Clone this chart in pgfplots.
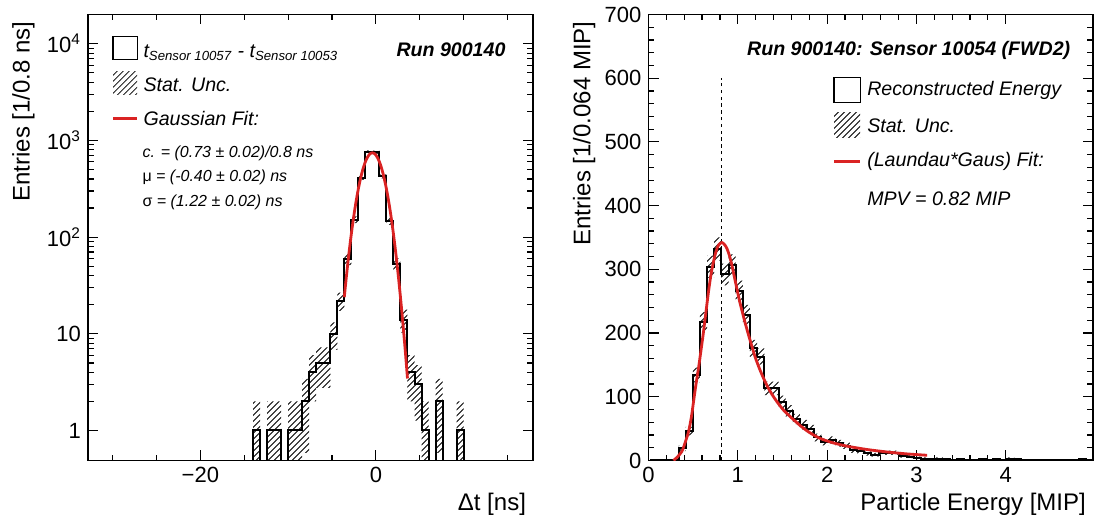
\documentclass[border=0pt]{standalone}
\usepackage{fontspec}
\setmainfont{Liberation Sans}
\usepackage{pgfplots}
\usepackage{pgfplotstable}
\pgfplotsset{compat=1.18}
\usepgfplotslibrary{fillbetween}
\usetikzlibrary{patterns}
\definecolor{fitred}{RGB}{218,35,35}

% left histogram: bin low edge, content, content-sqrt, content+sqrt (0.1 = empty on log axis)
\pgfplotstableread{
x y lo hi
-14.8 0.1 0.1 0.1
-14.0 1 0.1 2
-13.2 0.1 0.1 0.1
-12.4 1 0.1 2
-11.6 1 0.1 2
-10.8 0.1 0.1 0.1
-10.0 1 0.1 2
-9.2 1 0.1 2
-8.4 2 0.586 3.414
-7.6 4 2 6
-6.8 5 2.764 7.236
-6.0 5 2.764 7.236
-5.2 10 6.838 13.162
-4.4 22 17.31 26.69
-3.6 59 51.32 66.68
-2.8 152 139.67 164.33
-2.0 410 389.75 430.25
-1.2 762 734.4 789.6
-0.4 755 727.5 782.5
0.4 426 405.4 446.6
1.2 146 133.9 158.1
2.0 53 45.72 60.28
2.8 14 10.26 17.74
3.6 4 2 6
4.4 3 1.268 4.732
5.2 1 0.1 2
6.0 0.1 0.1 0.1
6.8 2 0.586 3.414
7.6 0.1 0.1 0.1
8.4 0.1 0.1 0.1
9.2 1 0.1 2
10.0 0.1 0.1 0.1
10.8 0.1 0.1 0.1
}\lefthist

% right histogram
\pgfplotstableread{
x y lo hi
0.016 0 0 0
0.336 19 14.64 23.36
0.416 46 39.22 52.78
0.496 134 122.42 145.58
0.576 218 203.24 232.76
0.656 304 286.56 321.44
0.736 332 313.78 350.22
0.816 292 274.91 309.09
0.896 306 288.51 323.49
0.976 266 249.69 282.31
1.056 229 213.87 244.13
1.136 176 162.73 189.27
1.216 163 150.23 175.77
1.296 113 102.37 123.63
1.376 113 102.37 123.63
1.456 92 82.41 101.59
1.536 78 69.17 86.83
1.616 65 56.94 73.06
1.696 56 48.52 63.48
1.776 49 42 56
1.856 36 30 42
1.936 29 23.61 34.39
2.016 32 26.34 37.66
2.096 27 21.8 32.2
2.176 23 18.2 27.8
2.256 16 12 20
2.336 15 11.13 18.87
2.416 11 7.68 14.32
2.496 9 6 12
2.576 12 8.54 15.46
2.656 12 8.54 15.46
2.736 12 8.54 15.46
2.816 7 4.35 9.65
2.896 6 3.55 8.45
2.976 4 2 6
3.056 3 1.27 4.73
3.136 2 0.59 3.41
3.216 3 1.27 4.73
3.296 2 0.59 3.41
3.376 1 0 2
3.456 2 0.59 3.41
3.536 1 0 2
3.616 1 0 2
3.696 2 0.59 3.41
3.776 1 0 2
3.856 2 0.59 3.41
3.936 1 0 2
4.016 3 1.27 4.73
4.096 2 0.59 3.41
4.176 0 0 0
4.256 1 0 2
4.336 1 0 2
4.416 0 0 0
4.496 1 0 2
4.576 1 0 2
4.656 0 0 0
4.736 1 0 2
4.816 2 0.59 3.41
4.896 1 0 2
4.976 1 0 2
}\righthist

\pgfplotsset{
  rootstyle/.style={
    scale only axis,
    anchor=south west,
    axis line style={line width=0.8pt},
    every tick/.style={black, line width=0.6pt},
    major tick length=5pt,
    minor tick length=2.8pt,
    tick label style={font=\fontsize{11}{13}\selectfont},
    label style={font=\fontsize{12}{14}\selectfont},
    xlabel style={at={(axis description cs:1,-0.098)}, anchor=east},
    ylabel style={at={(axis description cs:-0.145,1)}, anchor=east},
    clip=true,
  },
}
\tikzset{
  legtext/.style={font=\fontsize{9.8}{11}\selectfont\itshape, anchor=west, inner sep=0pt},
}

\begin{document}
\begin{tikzpicture}
\path (0,0) rectangle (547pt,260pt);

% ---------------- left panel ----------------
\begin{axis}[rootstyle,
  at={(44pt,32pt)}, width=222.5pt, height=223pt,
  ymode=log, xmin=-32.8, xmax=17.9, ymin=0.49, ymax=2.01e4,
  xtick={-20,0}, xticklabels={−20,0},
  minor xtick={-30,-25,-15,-10,-5,5,10,15},
  ytick={1,10,100,1000,10000},
  yticklabels={1,10,10\textsuperscript{2},10\textsuperscript{3},10\textsuperscript{4}},
  xlabel={Δt [ns]}, ylabel={Entries [1/0.8 ns]},
]
\addplot[draw=none, name path=lu, const plot, forget plot] table[x=x, y=hi] {\lefthist};
\addplot[draw=none, name path=ll, const plot, forget plot] table[x=x, y=lo] {\lefthist};
\addplot[pattern=north east lines, draw=none] fill between[of=lu and ll];
\addplot[black, line width=1pt, const plot] table[x=x, y=y] {\lefthist};
\addplot[fitred, line width=1.4pt, smooth] coordinates {
(-3.6,23.9) (-3.4,36.2) (-3.2,53.5) (-3.0,76.9) (-2.8,107.6) (-2.6,146.5)
(-2.4,194.3) (-2.2,250.8) (-2.0,315.3) (-1.8,385.7) (-1.6,459.3) (-1.4,532.4)
(-1.2,600.8) (-1.0,660.1) (-0.8,706.0) (-0.6,735.1) (-0.4,745) (-0.2,735.1)
(0.0,706.0) (0.2,660.1) (0.4,600.8) (0.6,532.4) (0.8,459.3) (1.0,385.7)
(1.2,315.3) (1.4,250.8) (1.6,194.3) (1.8,146.5) (2.0,107.6) (2.2,76.9)
(2.4,53.5) (2.6,36.2) (2.8,23.9) (3.0,15.3) (3.2,9.58) (3.4,5.83) (3.6,3.45)};
% legend
\draw[black, line width=0.6pt] (axis description cs:0.0563,0.8984) rectangle (axis description cs:0.1104,0.9507);
\fill[pattern=north east lines] (axis description cs:0.0563,0.8206) rectangle (axis description cs:0.1104,0.8722);
\draw[fitred, line width=1.4pt] (axis description cs:0.0563,0.7668) -- (axis description cs:0.1104,0.7668);
\node[legtext, anchor=base west] at (axis description cs:0.1239,0.9036)
  {\textit{t}\textsubscript{\fontsize{6.6}{8}\selectfont\itshape Sensor 10057} - \textit{t}\textsubscript{\fontsize{6.6}{8}\selectfont\itshape Sensor 10053}};
\node[legtext] at (axis description cs:0.1239,0.843) {Stat. Unc.};
\node[legtext] at (axis description cs:0.1239,0.7668) {Gaussian Fit:};
\node[legtext, font=\fontsize{8}{9}\selectfont\itshape] at (axis description cs:0.1216,0.6883) {c. = (0.73 ± 0.02)/0.8 ns};
\node[legtext, font=\fontsize{8}{9}\selectfont\itshape] at (axis description cs:0.1216,0.6345) {\textup{μ} = (-0.40 ± 0.02) ns};
\node[legtext, font=\fontsize{8}{9}\selectfont\itshape] at (axis description cs:0.1216,0.5785) {\textup{σ} = (1.22 ± 0.02) ns};
\node[font=\fontsize{9.8}{11}\selectfont\bfseries\itshape, anchor=east, inner sep=0pt] at (axis description cs:0.939,0.9215) {Run 900140};
\end{axis}

% ---------------- right panel ----------------
\begin{axis}[rootstyle,
  at={(324.25pt,32pt)}, width=222.2pt, height=223pt,
  xmin=0, xmax=4.976, ymin=0, ymax=700,
  xtick={0,1,2,3,4}, minor x tick num=4,
  ytick={0,100,200,300,400,500,600,700},
  yticklabels={0,100,200,300,400,500,600,700},
  minor y tick num=4,
  xticklabels={0,1,2,3,4},
  xlabel={Particle Energy [MIP]}, ylabel={Entries [1/0.064 MIP]},
]
\addplot[draw=none, name path=ru, const plot, forget plot] table[x=x, y=hi] {\righthist};
\addplot[draw=none, name path=rl, const plot, forget plot] table[x=x, y=lo] {\righthist};
\addplot[pattern=north east lines, draw=none] fill between[of=ru and rl];
\addplot[black, line width=1pt, const plot] table[x=x, y=y] {\righthist};
\addplot[black, line width=0.5pt, dash pattern=on 1.7pt off 1.7pt] coordinates {(0.82,0) (0.82,600)};
\addplot[fitred, line width=1.4pt, smooth] coordinates {
(0.28,0) (0.32,5) (0.373,14) (0.41,28) (0.448,45) (0.48,68) (0.504,92) (0.53,118)
(0.56,145) (0.59,175) (0.616,202) (0.645,235) (0.672,265) (0.70,292) (0.728,312)
(0.756,328) (0.784,338) (0.821,342) (0.85,339) (0.877,333) (0.905,322) (0.933,307)
(0.96,289) (0.989,270) (1.02,250) (1.045,236) (1.08,217) (1.12,197) (1.16,178)
(1.195,162) (1.24,145) (1.288,129) (1.34,114) (1.4,100) (1.46,88) (1.512,79)
(1.57,71) (1.624,64) (1.68,57) (1.736,50.5) (1.79,45) (1.848,40) (1.90,36)
(1.96,32.5) (2.07,27.5) (2.22,22.5) (2.445,17.2) (2.67,13.3) (2.89,10.3) (3.12,8.1)};
% legend
\node[font=\fontsize{9.8}{11}\selectfont\bfseries\itshape, anchor=east, inner sep=0pt] at (axis description cs:0.950,0.919) {Run 900140: Sensor 10054 (FWD2)};
\draw[black, line width=0.6pt] (axis description cs:0.4176,0.8027) rectangle (axis description cs:0.4763,0.8587);
\fill[pattern=north east lines] (axis description cs:0.4176,0.7242) rectangle (axis description cs:0.4763,0.7803);
\draw[fitred, line width=1.4pt] (axis description cs:0.4176,0.6704) -- (axis description cs:0.4763,0.6704);
\node[legtext] at (axis description cs:0.4914,0.8296) {Reconstructed Energy};
\node[legtext] at (axis description cs:0.4914,0.7511) {Stat. Unc.};
\node[legtext] at (axis description cs:0.4914,0.6704) {(Laundau*Gaus) Fit:};
\node[legtext] at (axis description cs:0.4914,0.5874) {MPV = 0.82 MIP};
\end{axis}
\end{tikzpicture}
\end{document}
